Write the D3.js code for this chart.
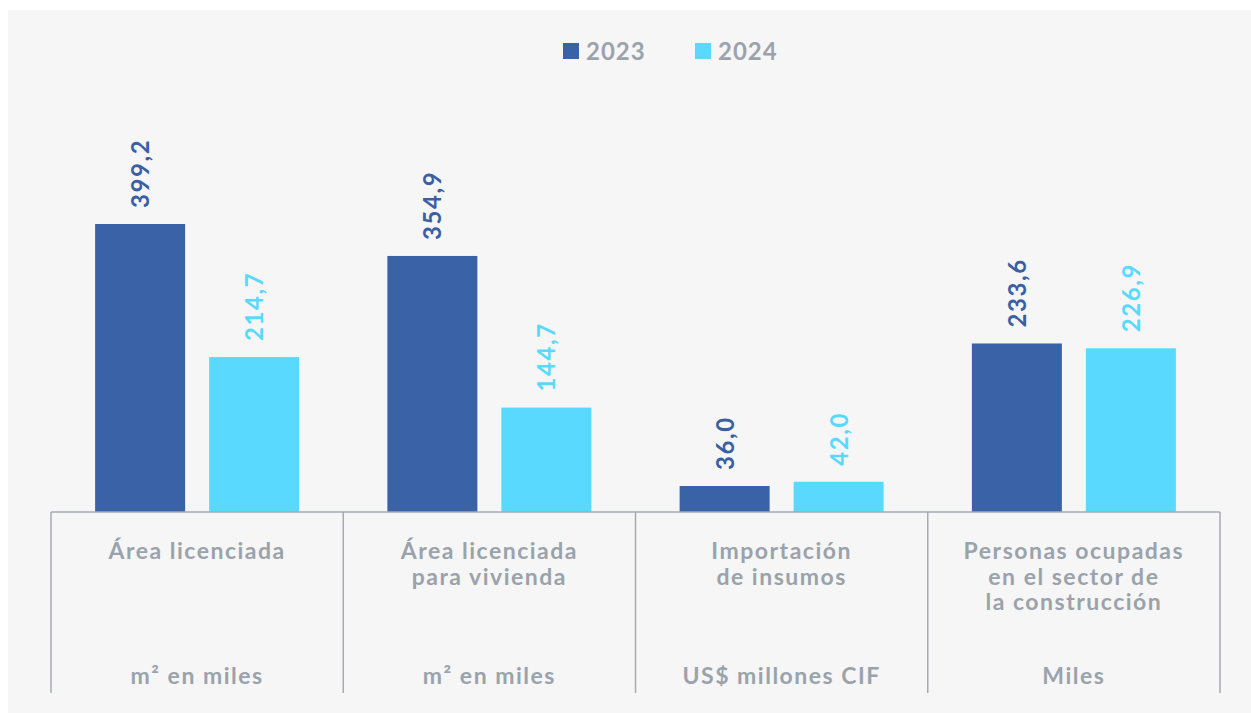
<!DOCTYPE html>
<html><head><meta charset="utf-8">
<script src="https://cdn.jsdelivr.net/npm/d3@7"></script>
<style>body{margin:0;background:#fff;}svg{display:block;}</style>
</head><body>
<svg id="chart" width="1251" height="713"></svg>
<script>
const categories = [
  ["Área licenciada"],
  ["Área licenciada", "para vivienda"],
  ["Importación", "de insumos"],
  ["Personas ocupadas", "en el sector de", "la construcción"]
];
const units = ["m² en miles", "m² en miles", "US$ millones CIF", "Miles"];
const seriesNames = ["2023", "2024"];
const values2023 = [399.2, 354.9, 36.0, 233.6];
const values2024 = [214.7, 144.7, 42.0, 226.9];
const colors = ["#3a62a7", "#5ad9ff"];

const svg = d3.select("#chart");
svg.append("rect").attr("x", 8).attr("y", 10).attr("width", 1243).attr("height", 703).attr("fill", "#f6f6f6");

const left = 51, right = 1220, base = 512;
const x = d3.scaleBand().domain(d3.range(categories.length)).range([left, right]).padding(0);
const y = d3.scaleLinear().domain([0, 399.2]).range([base, 224]);
const fmt = v => d3.format(".1f")(v).replace(".", ",");
const grey = "#9aa3ab";
const font = "Lato, 'Open Sans', sans-serif";

const series = [values2023, values2024];
const offsets = [-102, 12];
const bw = 90;

series.forEach((vals, si) => {
  const g = svg.append("g");
  g.selectAll("rect").data(vals).join("rect")
    .attr("x", (d, i) => x(i) + x.bandwidth() / 2 + offsets[si])
    .attr("y", d => y(d))
    .attr("width", bw)
    .attr("height", d => base - y(d))
    .attr("fill", colors[si]);
  g.selectAll("text").data(vals).join("text")
    .attr("transform", (d, i) => `translate(${x(i) + x.bandwidth() / 2 + offsets[si] + bw / 2 + 9},${y(d) - 16}) rotate(-90)`)
    .attr("text-anchor", "start")
    .attr("font-family", font).attr("font-weight", 700).attr("font-size", 24)
    .attr("letter-spacing", 1.6)
    .attr("fill", si === 0 ? "#3a5fa5" : colors[si])
    .text(d => fmt(d));
});

// axis frame
const lineColor = "#a3abb3";
svg.append("line").attr("x1", left).attr("x2", right).attr("y1", base).attr("y2", base)
  .attr("stroke", lineColor).attr("stroke-width", 1.5);
const edges = d3.range(categories.length + 1).map(i => i < categories.length ? x(i) : right);
svg.selectAll(".sep").data(edges).join("line").attr("class", "sep")
  .attr("x1", d => d).attr("x2", d => d).attr("y1", base).attr("y2", 693)
  .attr("stroke", lineColor).attr("stroke-width", 1.5);

// category labels
categories.forEach((lines, i) => {
  const t = svg.append("text").attr("text-anchor", "middle")
    .attr("font-family", font).attr("font-weight", 700).attr("font-size", 23)
    .attr("letter-spacing", 1.5)
    .attr("fill", grey);
  lines.forEach((l, j) => {
    t.append("tspan").attr("x", x(i) + x.bandwidth() / 2).attr("y", 559 + j * 25.5).text(l);
  });
  svg.append("text").attr("x", x(i) + x.bandwidth() / 2).attr("y", 684).attr("text-anchor", "middle")
    .attr("font-family", font).attr("font-weight", 700).attr("font-size", 23)
    .attr("letter-spacing", 1.5)
    .attr("fill", grey).text(units[i]);
});

// legend
const legX = [563, 695];
seriesNames.forEach((n, i) => {
  svg.append("rect").attr("x", legX[i]).attr("y", 43).attr("width", 16).attr("height", 16).attr("fill", colors[i]);
  svg.append("text").attr("x", legX[i] + 23).attr("y", 60)
    .attr("font-family", font).attr("font-weight", 700).attr("font-size", 24)
    .attr("letter-spacing", 1)
    .attr("fill", grey).text(n);
});
</script>
</body></html>
